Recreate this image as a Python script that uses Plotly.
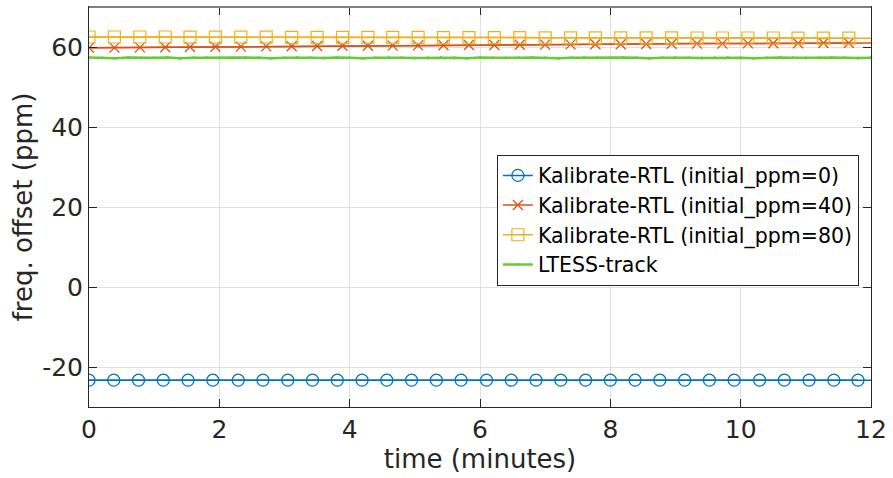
import plotly.graph_objects as go

# ---- data ----
t_ppm0 = [0.00, 0.38, 0.76, 1.14, 1.52, 1.90, 2.29, 2.67, 3.05, 3.43, 3.81, 4.19,
          4.57, 4.95, 5.33, 5.71, 6.10, 6.48, 6.86, 7.24, 7.62, 8.00, 8.38, 8.76,
          9.14, 9.52, 9.90, 10.29, 10.67, 11.05, 11.43, 11.80, 12.0]
ppm0 = [-23.3, -23.3, -23.3, -23.3, -23.3, -23.3, -23.3, -23.3, -23.3, -23.3, -23.3, -23.3,
        -23.3, -23.3, -23.3, -23.3, -23.3, -23.3, -23.3, -23.3, -23.3, -23.3, -23.3, -23.3,
        -23.3, -23.3, -23.3, -23.3, -23.3, -23.3, -23.3, -23.3, -23.3]

t_ppm40_80 = [0.00, 0.39, 0.78, 1.17, 1.55, 1.94, 2.33, 2.72, 3.11, 3.50, 3.89, 4.28,
              4.66, 5.05, 5.44, 5.83, 6.22, 6.61, 7.00, 7.39, 7.77, 8.16, 8.55, 8.94,
              9.33, 9.72, 10.11, 10.50, 10.88, 11.27, 11.66, 12.0]
ppm40 = [59.8, 59.85, 59.9, 59.95, 60.0, 60.05, 60.1, 60.15, 60.2, 60.25, 60.3, 60.3,
         60.35, 60.4, 60.45, 60.5, 60.5, 60.55, 60.6, 60.65, 60.7, 60.7, 60.75, 60.8,
         60.85, 60.85, 60.9, 60.95, 60.95, 61.0, 61.0, 61.0]
ppm80 = [62.5, 62.5, 62.5, 62.5, 62.45, 62.45, 62.45, 62.45, 62.4, 62.4, 62.4, 62.4,
         62.4, 62.4, 62.35, 62.35, 62.35, 62.35, 62.3, 62.3, 62.3, 62.3, 62.3, 62.3,
         62.25, 62.25, 62.25, 62.25, 62.2, 62.2, 62.2, 62.2]

t_ltess = [0.0, 0.2, 0.4, 0.6, 0.8, 1.0, 1.2, 1.4, 1.6, 1.8, 2.0, 2.2, 2.4, 2.6, 2.8,
           3.0, 3.2, 3.4, 3.6, 3.8, 4.0, 4.2, 4.4, 4.6, 4.8, 5.0, 5.2, 5.4, 5.6, 5.8,
           6.0, 6.2, 6.4, 6.6, 6.8, 7.0, 7.2, 7.4, 7.6, 7.8, 8.0, 8.2, 8.4, 8.6, 8.8,
           9.0, 9.2, 9.4, 9.6, 9.8, 10.0, 10.2, 10.4, 10.6, 10.8, 11.0, 11.2, 11.4, 11.6,
           11.8, 12.0]
ltess = [57.4, 57.3, 57.2, 57.35, 57.25, 57.3, 57.4, 57.2, 57.3, 57.35, 57.25, 57.3,
         57.4, 57.3, 57.2, 57.3, 57.35, 57.3, 57.25, 57.4, 57.3, 57.2, 57.3, 57.35,
         57.3, 57.25, 57.3, 57.4, 57.3, 57.2, 57.35, 57.3, 57.25, 57.3, 57.4, 57.3,
         57.2, 57.3, 57.35, 57.25, 57.3, 57.4, 57.3, 57.2, 57.3, 57.35, 57.3, 57.25,
         57.3, 57.4, 57.3, 57.2, 57.3, 57.35, 57.3, 57.25, 57.3, 57.4, 57.3, 57.25, 57.3]

names = ["Kalibrate-RTL (initial_ppm=0)", "Kalibrate-RTL (initial_ppm=40)",
         "Kalibrate-RTL (initial_ppm=80)", "LTESS-track"]

x_ticks = [0, 2, 4, 6, 8, 10, 12]
y_ticks = [-20, 0, 20, 40, 60]
y_tick_text = ["-20", "0", "20", "40", "60"]

C_BLUE = "#0072BD"
C_RED = "#D95319"
C_YEL = "#EDB120"
C_GRN = "#66CC33"
FONT = "DejaVu Sans"

fig = go.Figure()

# lines (full extent), then markers at the measurement points
fig.add_trace(go.Scatter(x=t_ppm0, y=ppm0, mode="lines", line=dict(color=C_BLUE, width=1.5),
                         showlegend=False, hoverinfo="skip"))
fig.add_trace(go.Scatter(x=t_ppm0[:-1], y=ppm0[:-1], mode="lines+markers", name=names[0],
                         line=dict(color=C_BLUE, width=1.5),
                         marker=dict(symbol="circle-open", size=12, color=C_BLUE, line=dict(width=1.2))))

fig.add_trace(go.Scatter(x=t_ppm40_80, y=ppm40, mode="lines", line=dict(color=C_RED, width=1.5),
                         showlegend=False, hoverinfo="skip"))
fig.add_trace(go.Scatter(x=t_ppm40_80[:-1], y=ppm40[:-1], mode="lines+markers", name=names[1],
                         line=dict(color=C_RED, width=1.5),
                         marker=dict(symbol="x-thin-open", size=10, color=C_RED, line=dict(width=1.3, color=C_RED))))

fig.add_trace(go.Scatter(x=t_ppm40_80, y=ppm80, mode="lines", line=dict(color=C_YEL, width=1.5),
                         showlegend=False, hoverinfo="skip"))
fig.add_trace(go.Scatter(x=t_ppm40_80[:-1], y=ppm80[:-1], mode="lines+markers", name=names[2],
                         line=dict(color=C_YEL, width=1.5),
                         marker=dict(symbol="square-open", size=12, color=C_YEL, line=dict(width=1.2))))

fig.add_trace(go.Scatter(x=t_ltess, y=ltess, mode="lines+markers", name=names[3],
                         line=dict(color=C_GRN, width=2.5),
                         marker=dict(symbol="circle", size=3, color=C_GRN)))

axis_common = dict(
    showline=True, linecolor="#262626", linewidth=1, mirror="allticks",
    ticks="inside", ticklen=8, tickcolor="#262626", tickwidth=1,
    showgrid=True, gridcolor="#e0e0e0", gridwidth=1, zeroline=False,
    tickfont=dict(family=FONT, size=25, color="#262626"),
)

fig.update_xaxes(range=[0, 12], tickvals=x_ticks,
                 title=dict(text="time (minutes)", font=dict(family=FONT, size=26, color="#262626"), standoff=4),
                 **axis_common)
fig.update_yaxes(range=[-30, 70], tickvals=y_ticks, ticktext=y_tick_text,
                 title=dict(text="freq. offset (ppm)", font=dict(family=FONT, size=26, color="#262626"), standoff=2),
                 **axis_common)

fig.update_layout(
    width=893, height=478,
    margin=dict(l=89, r=18, t=6, b=71),
    paper_bgcolor="white", plot_bgcolor="white",
    font=dict(family=FONT, color="#262626"),
    legend=dict(x=0.5216, y=0.631, xanchor="left", yanchor="top",
                bgcolor="white", bordercolor="#262626", borderwidth=1,
                font=dict(family=FONT, size=20.5, color="#000000"),
                tracegroupgap=0, itemwidth=30),
    shapes=[dict(type="line", xref="paper", yref="paper", x0=0, x1=1, y0=1, y1=1,
                 line=dict(color="#808080", width=2))],
)

fig.write_html("out.html")
